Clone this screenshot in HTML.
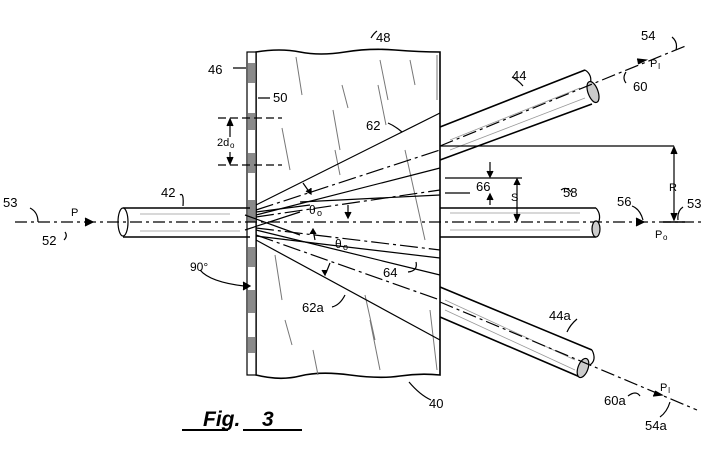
<!DOCTYPE html>
<html><head><meta charset="utf-8"><style>
html,body{margin:0;padding:0;background:#fff}
svg{display:block}
text{font-family:"Liberation Sans",sans-serif;fill:#000}
</style></head><body>
<svg width="710" height="452" viewBox="0 0 710 452" xmlns="http://www.w3.org/2000/svg">
<g stroke="#000" fill="none" stroke-width="1.2">
<path d="M256 52 Q280 48 300 52 T345 52 T395 50 T440 52 L440 375 Q420 373 400 376 T350 375 T300 376 T256 375 Z" fill="#fff" stroke-width="1.6"/>
<rect x="247" y="52" width="9" height="323" fill="#fff"/>
<g fill="#8a8a8a" stroke="none">
<rect x="248" y="63" width="7" height="20"/><rect x="248" y="113" width="7" height="17"/><rect x="248" y="153" width="7" height="20"/><rect x="248" y="200" width="7" height="22"/><rect x="248" y="247" width="7" height="20"/><rect x="248" y="290" width="7" height="23"/><rect x="248" y="337" width="7" height="16"/>
</g>
<g stroke="#777" stroke-width="1">
<path d="M296 57 L302 95 M342 85 L348 108 M378 85 L386 125 M380 60 L388 100 M335 150 L340 175 M282 128 L290 170 M333 110 L340 150 M405 150 L425 240 M275 255 L282 300 M285 320 L292 345 M365 295 L375 340 M370 320 L380 370 M430 310 L437 370 M313 350 L318 375 M410 60 L415 85 M437 55 L437 100"/>
</g>
<path d="M256 205 L440 113"/>
<path d="M256 210 L440 150" stroke-dasharray="18 4 3 4"/>
<path d="M256 215 L440 168"/>
<path d="M256 217 L440 190" stroke-dasharray="18 4 3 4"/>
<path d="M256 212 L310 205"/>
<path d="M300 202 L440 195"/>
<path d="M256 230 L440 275"/>
<path d="M256 228 L440 250" stroke-dasharray="18 4 3 4"/>
<path d="M256 235 L440 300" stroke-dasharray="18 4 3 4"/>
<path d="M256 240 L440 340"/>
<path d="M256 236 L330 245 L440 258"/>
<path d="M245 215 L300 235 M245 230 L300 212"/>
<path d="M218 118 L282 118 M218 165 L282 165" stroke-dasharray="8 4"/>
<path d="M230 122 L230 137 M230 152 L230 162"/>
<path d="M227 126 L230 119 L233 126 M227 157 L230 164 L233 157" fill="#000"/>
<path d="M123 208 L250 208 M123 237 L250 237" stroke-width="1.6"/>
<ellipse cx="123" cy="222" rx="5" ry="14" fill="#fff"/>
<path d="M140 214 L230 214 M140 231 L240 231" stroke="#999" stroke-width="0.8"/>
<path d="M15 222 L705 222" stroke-dasharray="12 4 3 4"/>
<path d="M85 218 L93 222 L85 226" fill="#000"/>
<path d="M440 208 L596 208 M440 237 L596 237" stroke-width="1.6"/>
<path d="M596 208 Q602 215 598 224"/>
<ellipse cx="596" cy="229" rx="4" ry="8" fill="#ccc"/>
<path d="M450 230 L580 230 M450 213 L580 213" stroke="#999" stroke-width="0.8"/>
<path d="M636 218 L644 222 L636 226" fill="#000"/>
<path d="M440 127 L585 70 M440 160 L592 104" stroke-width="1.6"/>
<path d="M585 70 Q593 75 590 85"/>
<ellipse cx="593" cy="92" rx="5" ry="11" fill="#ccc" transform="rotate(-20 593 92)"/>
<path d="M450 150 L585 98 M450 140 L580 88" stroke="#999" stroke-width="0.8"/>
<path d="M440 146 L688 45" stroke-dasharray="14 4 3 4"/>
<path d="M638 64 L646 60 L637 59" fill="#000"/>
<path d="M440 287 L592 350 M440 317 L580 377" stroke-width="1.6"/>
<path d="M592 350 Q597 360 590 365"/>
<ellipse cx="583" cy="368" rx="5" ry="10" fill="#ccc" transform="rotate(20 583 368)"/>
<path d="M445 300 L575 360 M445 310 L575 370" stroke="#999" stroke-width="0.8"/>
<path d="M440 302 L697 410" stroke-dasharray="14 4 3 4"/>
<path d="M655 391 L662 395 L653 396" fill="#000"/>
<path d="M440 146 L674 146 M445 178 L522 178 M445 193 L470 193"/>
<path d="M674 150 L674 220 M517 180 L517 220 M490 162 L490 176 M490 196 L490 205"/>
<path d="M671 154 L674 147 L677 154 M671 213 L674 220 L677 213 M514 185 L517 179 L520 185 M514 214 L517 221 L520 214 M487 171 L490 177 L493 171 M487 200 L490 194 L493 200" fill="#000"/>
<path d="M663 222 L685 222" stroke-width="1.6"/>
<path d="M303 183 L310 193 M348 205 L348 217 M315 240 L313 230 M330 263 L326 273"/>
<path d="M306 191 L311 194 L311 188 M345 212 L348 218 L351 212 M310 234 L313 229 L316 234 M327 270 L325 275 L322 270" fill="#000"/>
<path d="M371 38 Q374 33 377 31 M233 68 L246 68 M258 98 L270 98 M180 195 Q184 192 183 206 M200 270 Q210 282 244 286 M388 123 Q395 126 402 132 M416 262 Q418 271 408 272 M332 307 Q340 305 345 295 M512 77 Q518 80 523 86 M561 190 Q566 186 571 192 M577 319 Q570 325 567 332 M626 83 Q622 78 626 72 M672 37 Q678 42 676 50 M632 206 Q640 209 643 220 M683 207 Q677 211 678 220 M30 208 Q38 212 38 222 M65 232 Q68 236 64 240 M431 400 Q420 395 409 382 M628 396 Q636 390 640 396 M660 417 Q667 412 670 402"/>
<path d="M243 282 L250 286 L243 290" fill="#000"/>
<path d="M182 430 L228 430 M243 430 L302 430" stroke-width="2"/>
</g>
<g style="font-size:13px">
<text x="376" y="42">48</text>
<text x="208" y="74">46</text>
<text x="273" y="102">50</text>
<text x="217" y="146" style="font-size:11px">2d</text><text x="230" y="148" style="font-size:8px">o</text>
<text x="161" y="197">42</text>
<text x="3" y="207">53</text>
<text x="71" y="216" style="font-size:11px">P</text>
<text x="42" y="245">52</text>
<text x="190" y="271" style="font-size:12px">90°</text>
<text x="366" y="130">62</text>
<text x="309" y="214" style="font-size:12px">θ</text><text x="317" y="216" style="font-size:9px">o</text>
<text x="335" y="248" style="font-size:12px">θ</text><text x="343" y="250" style="font-size:9px">o</text>
<text x="383" y="277">64</text>
<text x="302" y="312">62a</text>
<text x="476" y="191">66</text>
<text x="511" y="201" style="font-size:11px">S</text>
<text x="669" y="191" style="font-size:11px">R</text>
<text x="512" y="80">44</text>
<text x="641" y="40">54</text>
<text x="650" y="67" style="font-size:11px">P</text><text x="658" y="69" style="font-size:8px">I</text>
<text x="633" y="91">60</text>
<text x="563" y="197">58</text>
<text x="617" y="206">56</text>
<text x="687" y="208">53</text>
<text x="655" y="238" style="font-size:11px">P</text><text x="663" y="240" style="font-size:8px">o</text>
<text x="549" y="320">44a</text>
<text x="660" y="391" style="font-size:11px">P</text><text x="668" y="393" style="font-size:8px">I</text>
<text x="604" y="405">60a</text>
<text x="645" y="430">54a</text>
<text x="429" y="408">40</text>
<text x="203" y="426" style="font-size:21px;font-weight:bold;font-style:italic">Fig.</text>
<text x="262" y="426" style="font-size:21px;font-weight:bold;font-style:italic">3</text>
</g>
</svg>
</body></html>
